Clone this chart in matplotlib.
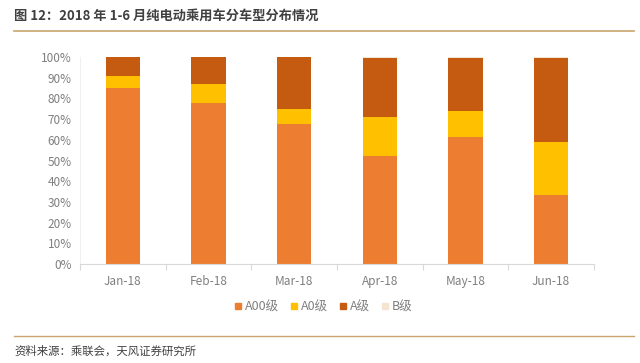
import matplotlib
matplotlib.use("Agg")
import matplotlib.pyplot as plt
import numpy as np
from matplotlib.lines import Line2D

plt.rcParams['font.family'] = ['Noto Sans CJK SC', 'DejaVu Sans']

months = ['Jan-18', 'Feb-18', 'Mar-18', 'Apr-18', 'May-18', 'Jun-18']
a00 = [85.0, 77.6, 67.5, 52.3, 61.5, 33.5]
a0 = [6.0, 9.4, 7.4, 18.6, 12.5, 25.5]
b = [0.0, 0.0, 0.0, 0.5, 0.4, 0.4]
a = [100 - x - y - z for x, y, z in zip(a00, a0, b)]

series = [('A00级', a00, '#ED7D31'),
          ('A0级', a0, '#FFC000'),
          ('A级', a, '#C55A11'),
          ('B级', b, '#F6E4D2')]

fig = plt.figure(figsize=(6.4, 3.63), dpi=100)
ax = fig.add_axes([0.125, 0.2727, 0.803, 0.5703])

x = np.arange(len(months))
bottom = np.zeros(len(months))
for name, vals, col in series:
    ax.bar(x, vals, 0.4, bottom=bottom, color=col, label=name, zorder=2)
    bottom += np.array(vals)

ax.set_xlim(-0.5, len(months) - 0.5)
ax.set_ylim(0, 100)
ax.set_yticks(np.arange(0, 101, 10))
ax.set_yticklabels([f'{v}%' for v in range(0, 101, 10)])
ax.set_xticks(x)
ax.set_xticklabels(months)
ax.set_xticks(np.arange(-0.5, len(months), 1), minor=True)
ax.tick_params(axis='x', which='major', length=0, pad=8, labelsize=8.5, labelcolor='#7F7F7F')
ax.tick_params(axis='x', which='minor', length=4, color='#D9D9D9', width=0.8)
ax.tick_params(axis='y', length=0, pad=6, labelsize=8.5, labelcolor='#7F7F7F')
for s in ['top', 'right']:
    ax.spines[s].set_visible(False)
ax.spines['left'].set_color('#F0F0F0')
ax.spines['bottom'].set_color('#D9D9D9')

# legend: small squares close to their labels
handles = [Line2D([], [], marker='s', linestyle='none', markersize=4.5,
                  markerfacecolor=col, markeredgecolor=col) for _, _, col in series]
fig.legend(handles, [s[0] for s in series], loc='center', bbox_to_anchor=(0.503, 0.155),
           ncol=4, frameon=False, fontsize=9, handletextpad=0.05, columnspacing=0.7,
           handlelength=1.0, labelcolor='#7F7F7F')

fig.text(0.022, 0.957, '图 12：2018 年 1-6 月纯电动乘用车分车型分布情况', fontsize=9.5,
         fontweight='bold', color='#404040', va='center', ha='left')
fig.add_artist(Line2D([0.022, 0.99], [0.914, 0.914], color='#C9A46C', linewidth=1.2))
fig.add_artist(Line2D([0.022, 0.99], [0.074, 0.074], color='#C9A46C', linewidth=1.0))
fig.text(0.022, 0.033, '资料来源：乘联会，天风证券研究所', fontsize=8.2, color='#404040',
         va='center', ha='left')

fig.savefig('out.png', dpi=100)
